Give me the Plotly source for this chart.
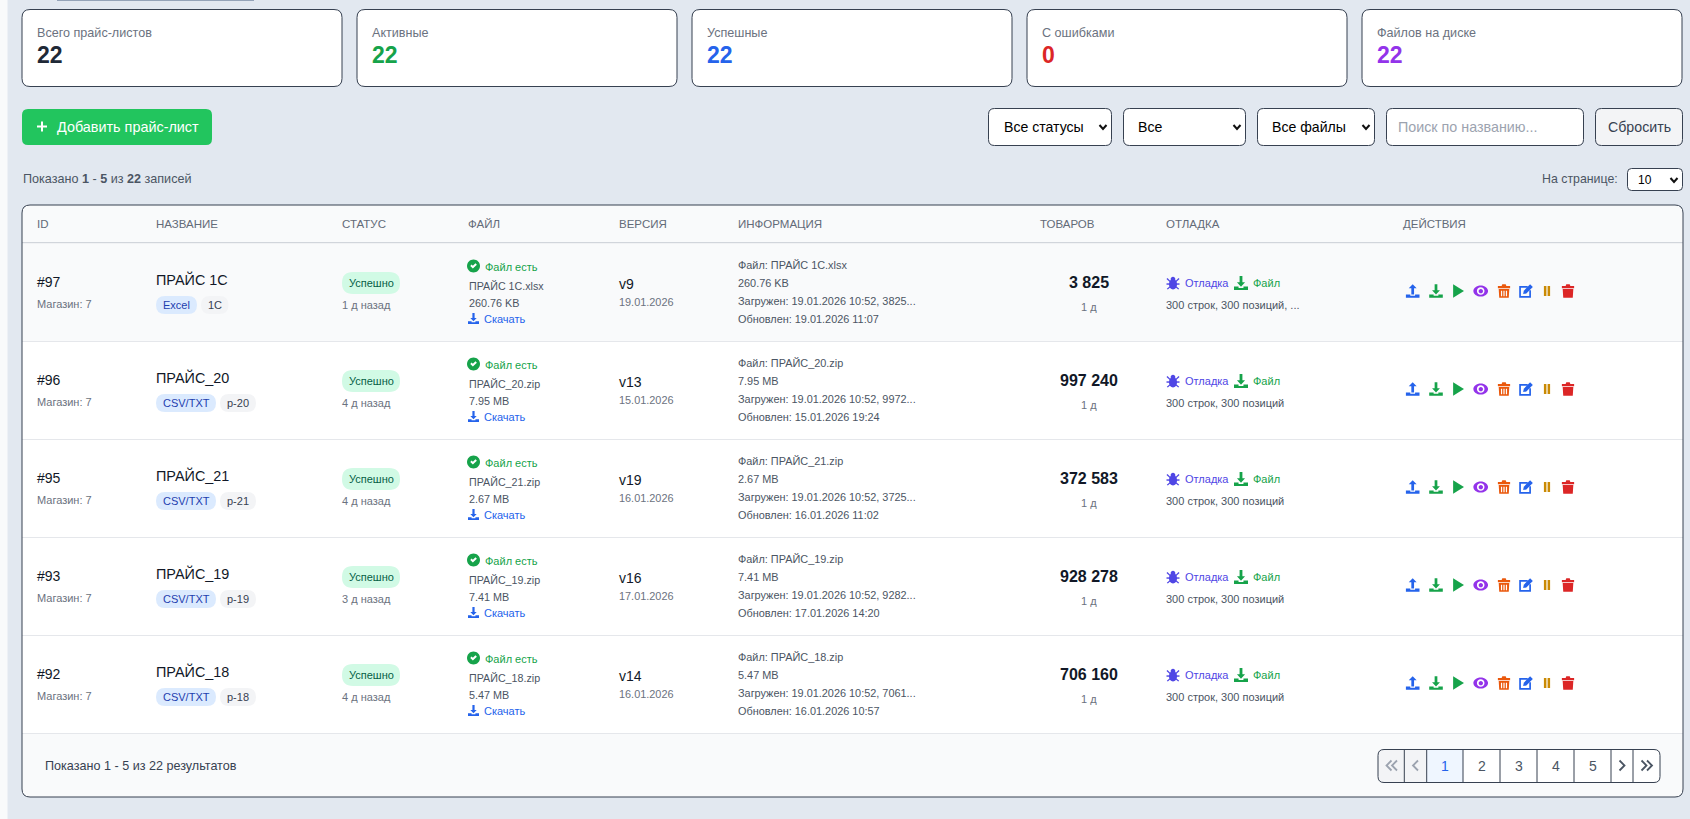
"""Price-list admin page, rebuilt as one plotly figure with a pixel-sized axis."""

import re

import plotly.graph_objects as go

# ---------- data ----------

CARD_LABELS = ["Всего прайс-листов", "Активные", "Успешные", "С ошибками", "Файлов на диске"]
CARD_VALUES = ["22", "22", "22", "0", "22"]
CARD_COLORS = ["#1f2937", "#16a34a", "#2563eb", "#dc2626", "#9333ea"]

FILTER_LABELS = ["Все статусы", "Все", "Все файлы"]
COLUMN_TITLES = ["ID", "НАЗВАНИЕ", "СТАТУС", "ФАЙЛ", "ВЕРСИЯ", "ИНФОРМАЦИЯ", "ТОВАРОВ", "ОТЛАДКА", "ДЕЙСТВИЯ"]

ROW_IDS = ["#97", "#96", "#95", "#93", "#92"]
ROW_NAMES = ["ПРАЙС 1С", "ПРАЙС_20", "ПРАЙС_21", "ПРАЙС_19", "ПРАЙС_18"]
ROW_TYPES = ["Excel", "CSV/TXT", "CSV/TXT", "CSV/TXT", "CSV/TXT"]
ROW_TAGS = ["1C", "p-20", "p-21", "p-19", "p-18"]
ROW_AGES = ["1 д назад", "4 д назад", "4 д назад", "3 д назад", "4 д назад"]
ROW_FILES = ["ПРАЙС 1С.xlsx", "ПРАЙС_20.zip", "ПРАЙС_21.zip", "ПРАЙС_19.zip", "ПРАЙС_18.zip"]
ROW_SIZES = ["260.76 KB", "7.95 MB", "2.67 MB", "7.41 MB", "5.47 MB"]
ROW_VERSIONS = ["v9", "v13", "v19", "v16", "v14"]
ROW_DATES = ["19.01.2026", "15.01.2026", "16.01.2026", "17.01.2026", "16.01.2026"]
ROW_LOADED = ["3825...", "9972...", "3725...", "9282...", "7061..."]
ROW_UPDATED = ["19.01.2026 11:07", "15.01.2026 19:24", "16.01.2026 11:02", "17.01.2026 14:20", "16.01.2026 10:57"]
ROW_GOODS = ["3 825", "997 240", "372 583", "928 278", "706 160"]
ROW_DEBUG = ["300 строк, 300 позиций, ...", "300 строк, 300 позиций", "300 строк, 300 позиций",
             "300 строк, 300 позиций", "300 строк, 300 позиций"]

PAGE_LABELS = ["1", "2", "3", "4", "5"]

# ---------- layout constants (pixels) ----------

W, H = 1690, 819
FONT = "Liberation Sans"
CARD_X = [22, 357, 692, 1027, 1362]
COL_X = [36.8, 155.8, 342, 468, 619, 738, 1040, 1166, 1402.5]
ROW_TOP = [243.5, 341.5, 439.5, 537.5, 635.5]
ROW_H = 98
ACTION_X = [1412.7, 1436, 1458, 1480.7, 1504, 1526, 1547, 1568]
ACTION_ICONS = ["upload", "download", "play", "eye", "trash_bars", "edit", "pause", "trash"]
ACTION_COLORS = ["#2563eb", "#16a34a", "#16a34a", "#9333ea", "#ea580c", "#2563eb", "#ca8a04", "#dc2626"]
PAGER_X = [1378, 1404.3, 1426.7, 1463, 1500, 1537, 1574, 1611, 1633, 1660]
BORDER = "#374151"
TEXT_INSET = 1  # annotations sit about a pixel right of the requested x

TRAY = "M -1 0.5 L -0.35 0.5 L -0.35 0.7 L 0.35 0.7 L 0.35 0.5 L 1 0.5 L 1 1 L -1 1 Z"
TRASH_LID = "M -0.9 -0.72 L -0.35 -0.72 L -0.25 -1 L 0.25 -1 L 0.35 -0.72 L 0.9 -0.72 L 0.9 -0.42 L -0.9 -0.42 Z"
TRASH_BODY = "M -0.78 -0.28 L 0.78 -0.28 L 0.7 1 L -0.7 1 Z"


def _disc(cx, cy, rx, ry=None):
    ry = rx if ry is None else ry
    kx, ky = rx * 0.55, ry * 0.55
    return (
        f"M {cx - rx} {cy} C {cx - rx} {cy - ky} {cx - kx} {cy - ry} {cx} {cy - ry} "
        f"C {cx + kx} {cy - ry} {cx + rx} {cy - ky} {cx + rx} {cy} "
        f"C {cx + rx} {cy + ky} {cx + kx} {cy + ry} {cx} {cy + ry} "
        f"C {cx - kx} {cy + ry} {cx - rx} {cy + ky} {cx - rx} {cy} Z"
    )


# glyphs in a -1..1 box, one string per filled path
ICONS = {
    "upload": ["M 0 -1 L 0.58 -0.4 L 0.2 -0.4 L 0.2 0.5 L -0.2 0.5 L -0.2 -0.4 L -0.58 -0.4 Z", TRAY],
    "download": ["M -0.2 -1 L 0.2 -1 L 0.2 -0.1 L 0.58 -0.1 L 0 0.52 L -0.58 -0.1 L -0.2 -0.1 Z", TRAY],
    "play": ["M -0.72 -1 L 0.88 0 L -0.72 1 Z"],
    "eye": [_disc(0, 0, 1.08, 0.82) + " " + _disc(0, 0, 0.56), _disc(0.02, 0.02, 0.32)],
    "trash_bars": [
        TRASH_LID,
        TRASH_BODY + " M -0.45 -0.02 L -0.27 -0.02 L -0.27 0.76 L -0.45 0.76 Z"
        " M -0.09 -0.02 L 0.09 -0.02 L 0.09 0.76 L -0.09 0.76 Z"
        " M 0.27 -0.02 L 0.45 -0.02 L 0.45 0.76 L 0.27 0.76 Z",
    ],
    "trash": [TRASH_LID, TRASH_BODY],
    "edit": [
        "M -1 -0.72 L 0.25 -0.72 L 0.25 -0.47 L -0.75 -0.47 L -0.75 0.75 L 0.48 0.75 L 0.48 -0.1 L 0.73 -0.1"
        " L 0.73 1 L -1 1 Z",
        "M 0.6 -1 L 1 -0.6 L 0.05 0.35 L -0.42 0.45 L -0.32 -0.03 Z",
    ],
    "pause": ["M -0.62 -1 L -0.12 -1 L -0.12 1 L -0.62 1 Z", "M 0.12 -1 L 0.62 -1 L 0.62 1 L 0.12 1 Z"],
    "check_disc": [_disc(0, 0, 1)],
    "check_mark": ["M -0.5 0 L -0.28 -0.22 L -0.1 -0.04 L 0.3 -0.42 L 0.52 -0.2 L -0.1 0.4 Z"],
    "bug": [
        _disc(0, -0.62, 0.36),
        _disc(0, 0.2, 0.62, 0.8),
        "M -1 -0.6 L -0.85 -0.75 L -0.4 -0.3 L -0.5 -0.15 Z",
        "M 1 -0.6 L 0.85 -0.75 L 0.4 -0.3 L 0.5 -0.15 Z",
        "M -1 0.05 L -0.5 0.05 L -0.5 0.27 L -1 0.27 Z",
        "M 1 0.05 L 0.5 0.05 L 0.5 0.27 L 1 0.27 Z",
        "M -0.95 0.9 L -0.8 1 L -0.4 0.65 L -0.5 0.5 Z",
        "M 0.95 0.9 L 0.8 1 L 0.4 0.65 L 0.5 0.5 Z",
    ],
}

shapes = []
annotations = []


def rrect(x0, y0, x1, y1, r):
    """Rounded rectangle path; r is one radius or (tl, tr, br, bl)."""
    tl, tr, br, bl = r if isinstance(r, tuple) else (r, r, r, r)
    return (
        f"M {x0 + tl} {y0} L {x1 - tr} {y0} Q {x1} {y0} {x1} {y0 + tr} "
        f"L {x1} {y1 - br} Q {x1} {y1} {x1 - br} {y1} "
        f"L {x0 + bl} {y1} Q {x0} {y1} {x0} {y1 - bl} "
        f"L {x0} {y0 + tl} Q {x0} {y0} {x0 + tl} {y0} Z"
    )


def box(x0, y0, x1, y1, r=0, fill="rgba(0,0,0,0)", line=None, width=1):
    shapes.append({
        "type": "path",
        "path": rrect(x0, y0, x1, y1, r),
        "xref": "x",
        "yref": "y",
        "fillcolor": fill,
        "line": {"color": line or "rgba(0,0,0,0)", "width": width if line else 0},
    })


def stroke(points, color, width=1):
    path = "M " + " L ".join(f"{x} {y}" for x, y in points)
    shapes.append({"type": "path", "path": path, "xref": "x", "yref": "y", "line": {"color": color, "width": width}})


def icon(name, cx, cy, half, color):
    def place(path):
        out, is_x = [], True
        for token in path.split():
            if re.fullmatch(r"[A-Z]", token):
                out.append(token)
                is_x = True
            else:
                out.append(str(round(float(token) * half + (cx if is_x else cy), 2)))
                is_x = not is_x
        return " ".join(out)

    for part in ICONS[name]:
        shapes.append({
            "type": "path",
            "path": place(part),
            "xref": "x",
            "yref": "y",
            "fillcolor": color,
            "line": {"width": 0},
        })


def label(x, y, text, size=12, color="#4b5563", anchor="left"):
    annotations.append({
        "x": x - TEXT_INSET if anchor == "left" else x,
        "y": y,
        "xref": "x",
        "yref": "y",
        "text": text,
        "showarrow": False,
        "xanchor": anchor,
        "yanchor": "middle",
        "borderpad": 0,
        "font": {"family": FONT, "size": size, "color": color},
    })


def select_arrow(x, y):
    stroke([(x - 3.5, y - 2), (x, y + 2), (x + 3.5, y - 2)], "#111111", 2)


# ---------- page frame ----------

box(0, 0, 7.5, H, fill="#f9fafb")
box(57, -2, 254, 1, fill="#94a3b8")

# ---------- stat cards ----------

for x, name, value, color in zip(CARD_X, CARD_LABELS, CARD_VALUES, CARD_COLORS):
    box(x, 9.5, x + 320, 86.5, 8, "#ffffff", BORDER)
    label(x + 14.8, 32.5, name, 12.6, "#6b7280")
    label(x + 14.8, 55, f"<b>{value}</b>", 23, color)

# ---------- toolbar ----------

box(22, 109, 212, 145, 6, "#22c55e")
stroke([(37, 126.5), (47, 126.5)], "#ffffff", 2)
stroke([(42, 121.5), (42, 131.5)], "#ffffff", 2)
label(56.5, 126.5, "Добавить прайс-лист", 14.4, "#ffffff")

for (x0, x1, tx, ax), text in zip(
    [(988.5, 1111.5, 1004, 1103), (1123.5, 1245.5, 1138, 1237), (1257.5, 1374.5, 1272, 1366)], FILTER_LABELS
):
    box(x0, 108.5, x1, 145.5, 6, "#ffffff", BORDER)
    label(tx, 127, text, 14.1, "#000000")
    select_arrow(ax, 127)

box(1386.5, 108.5, 1583.5, 145.5, 6, "#ffffff", BORDER)
label(1397.5, 126.5, "Поиск по названию...", 14.3, "#9ca3af")
box(1595.5, 108.5, 1682.5, 145.5, 6, "#f3f4f6", BORDER)
label(1639, 126.5, "Сбросить", 14.2, "#374151", "center")

label(22.5, 178.5, "Показано <b>1</b> - <b>5</b> из <b>22</b> записей", 12.6)
label(1619, 179, "На странице:", 12.35, "#4b5563", "right")
box(1627.5, 168.5, 1682.5, 190.5, 4, "#ffffff", BORDER)
label(1638, 179.5, "10", 12, "#000000")
select_arrow(1674, 180)

# ---------- table ----------

box(22, 205, 1683, 797, 8, "#ffffff")
box(22, 205, 1683, 242, (8, 8, 0, 0), "#f9fafb")
box(22, 242, 1683, 243.5, 0, "#d1d5db")
box(22, 243.5, 1683, 341, 0, "#f9fafb")
box(22, 734, 1683, 797, (0, 0, 8, 8), "#f9fafb")

for x, title in zip(COL_X, COLUMN_TITLES):
    label(x, 224, title, 11.5, "#636b78")

for i, top in enumerate(ROW_TOP):
    box(22, top + ROW_H - 0.5, 1683, top + ROW_H + 0.5, 0, "#e5e7eb")

    label(COL_X[0], top + 38.8, ROW_IDS[i], 14, "#111827")
    label(COL_X[0], top + 60, "Магазин: 7", 11, "#6b7280")

    label(COL_X[1], top + 36, ROW_NAMES[i], 14.4, "#111827")
    w_type = 41 if ROW_TYPES[i] == "Excel" else 60
    w_tag = 27.5 if i == 0 else 36
    box(156, top + 52.5, 156 + w_type, top + 70.5, 9, "#dbeafe")
    label(156 + w_type / 2, top + 61.5, ROW_TYPES[i], 11, "#1e40af", "center")
    x_tag = 156 + w_type + 4
    box(x_tag, top + 52.5, x_tag + w_tag, top + 70.5, 9, "#f3f4f6")
    label(x_tag + w_tag / 2, top + 61.5, ROW_TAGS[i], 11, "#374151", "center")

    box(342, top + 28.5, 400, top + 50.5, 11, "#d1fae5")
    label(371, top + 39.5, "Успешно", 11, "#065f46", "center")
    label(COL_X[2], top + 61, ROW_AGES[i], 11, "#6b7280")

    icon("check_disc", 473.5, top + 22.5, 6.5, "#16a34a")
    icon("check_mark", 473.5, top + 22.5, 6.5, "#ffffff")
    label(484.5, top + 23.5, "Файл есть", 11, "#16a34a")
    label(COL_X[3] + 0.5, top + 42.5, ROW_FILES[i], 10.7)
    label(COL_X[3] + 0.5, top + 59.5, ROW_SIZES[i], 10.8)
    icon("download", 473.5, top + 75, 5.5, "#2563eb")
    label(483.5, top + 75.5, "Скачать", 11, "#2563eb")

    label(COL_X[4], top + 40.5, ROW_VERSIONS[i], 14, "#111827")
    label(COL_X[4], top + 58, ROW_DATES[i], 10.9, "#6b7280")

    label(COL_X[5], top + 21.5, "Файл: " + ROW_FILES[i], 10.9)
    label(COL_X[5], top + 39.5, ROW_SIZES[i], 10.9)
    label(COL_X[5], top + 57.5, "Загружен: 19.01.2026 10:52, " + ROW_LOADED[i], 10.9)
    label(COL_X[5], top + 75.5, "Обновлен: " + ROW_UPDATED[i], 10.9)

    label(1088.5, top + 39, f"<b>{ROW_GOODS[i]}</b>", 16, "#111827", "center")
    label(1088.5, top + 63, "1 д", 11, "#6b7280", "center")

    icon("bug", 1173, top + 39.5, 6.5, "#4f46e5")
    label(1184.5, top + 39.5, "Отладка", 11, "#4f46e5")
    icon("download", 1241, top + 39.5, 7, "#16a34a")
    label(1252.5, top + 39.5, "Файл", 11, "#16a34a")
    label(COL_X[7], top + 61, ROW_DEBUG[i], 11)

    for x, name, color in zip(ACTION_X, ACTION_ICONS, ACTION_COLORS):
        half = 5 if name == "pause" else 6.8
        icon(name, x, top + 47.5, half, color)

box(22, 205, 1683, 797, 8, line=BORDER)

# ---------- footer and pager ----------

label(45, 765.5, "Показано 1 - 5 из 22 результатов", 12.6, "#374151")

box(PAGER_X[0], 749.5, PAGER_X[1], 782.5, (6, 0, 0, 6), "#f3f4f6")
box(PAGER_X[1], 749.5, PAGER_X[2], 782.5, 0, "#f3f4f6")
box(PAGER_X[2], 749.5, PAGER_X[3], 782.5, 0, "#eff6ff")
box(PAGER_X[3], 749.5, PAGER_X[8], 782.5, 0, "#ffffff")
box(PAGER_X[8], 749.5, PAGER_X[9], 782.5, (0, 6, 6, 0), "#ffffff")
for x in PAGER_X[1:-1]:
    stroke([(x, 749.5), (x, 782.5)], BORDER, 1)
box(PAGER_X[0], 749.5, PAGER_X[9], 782.5, 6, line=BORDER)

for j, text in enumerate(PAGE_LABELS):
    color = "#2563eb" if j == 0 else "#4b5563"
    label((PAGER_X[j + 2] + PAGER_X[j + 3]) / 2, 765.5, text, 14, color, "center")


def chevron(x, y, direction, color):
    stroke([(x - 2.5 * direction, y - 5), (x + 2.5 * direction, y), (x - 2.5 * direction, y + 5)], color, 1.8)


chevron(1389, 765.5, -1, "#9ca3af")
chevron(1394.5, 765.5, -1, "#9ca3af")
chevron(1415.5, 765.5, -1, "#9ca3af")
chevron(1622, 765.5, 1, "#4b5563")
chevron(1644, 765.5, 1, "#4b5563")
chevron(1649.5, 765.5, 1, "#4b5563")

# ---------- figure ----------

fig = go.Figure()
fig.update_layout(
    width=W,
    height=H,
    margin={"l": 0, "r": 0, "t": 0, "b": 0},
    paper_bgcolor="#e2e8f0",
    plot_bgcolor="#e2e8f0",
    showlegend=False,
    xaxis={"range": [0, W], "visible": False, "fixedrange": True},
    yaxis={"range": [H, 0], "visible": False, "fixedrange": True},
    shapes=shapes,
    annotations=annotations,
)
fig.write_html(
    "out.html",
    config={"displayModeBar": False},
    post_script="document.body.style.margin='0';document.body.style.overflow='hidden';",
)
